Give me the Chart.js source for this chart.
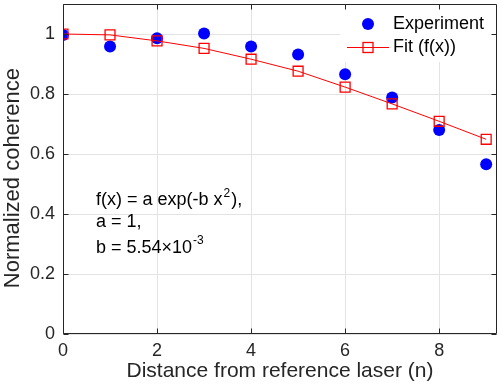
<!DOCTYPE html>
<html>
<head>
<meta charset="utf-8">
<script src="https://cdn.jsdelivr.net/npm/chart.js@4.4.1/dist/chart.umd.min.js"></script>
<style>
  html, body { margin: 0; padding: 0; background: #fff; }
</style>
</head>
<body>
<canvas id="chart" width="502" height="384"></canvas>
<script>
// data
var distance = [0, 1, 2, 3, 4, 5, 6, 7, 8, 9];
var experiment = [0.997, 0.958, 0.986, 1.002, 0.958, 0.932, 0.866, 0.788, 0.680, 0.566];
var fitValues = [1.000, 0.997, 0.977, 0.952, 0.916, 0.876, 0.823, 0.767, 0.709, 0.649];
var seriesNames = ['Experiment', 'Fit (f(x))'];
var xTickStep = 2;
var yTickStep = 0.2;
var xTitle = 'Distance from reference laser (n)';
var yTitle = 'Normalized coherence';

var FONT = 'Liberation Sans, Arial, Helvetica, sans-serif';
var AXIS = '#262626';

function points(ys) {
  var out = [];
  for (var i = 0; i < distance.length; i++) out.push({x: distance[i], y: ys[i]});
  return out;
}

// box around the axes with inward ticks (matlab style)
var boxPlugin = {
  id: 'box',
  afterDraw: function(chart) {
    var ctx = chart.ctx, a = chart.chartArea;
    var xs = chart.scales.x, ys = chart.scales.y;
    var L = Math.round(a.left) + 0.5, R = Math.round(a.right) - 0.5;
    var T = Math.round(a.top) + 0.5, B = Math.round(a.bottom) - 0.5;
    ctx.save();
    ctx.strokeStyle = AXIS;
    ctx.lineWidth = 1;
    ctx.beginPath();
    ctx.rect(L, T, R - L, B - T);
    xs.ticks.forEach(function(t) {
      var px = Math.round(xs.getPixelForValue(t.value)) + 0.5;
      ctx.moveTo(px, B); ctx.lineTo(px, B - 5);
      ctx.moveTo(px, T); ctx.lineTo(px, T + 5);
    });
    ys.ticks.forEach(function(t) {
      var py = Math.round(ys.getPixelForValue(t.value)) + 0.5;
      ctx.moveTo(L, py); ctx.lineTo(L + 5, py);
      ctx.moveTo(R, py); ctx.lineTo(R - 5, py);
    });
    ctx.stroke();
    ctx.restore();
  }
};

// legend in the upper right corner + fit formula text
var notePlugin = {
  id: 'note',
  afterDatasetsDraw: function(chart) {
    var ctx = chart.ctx;
    ctx.save();
    ctx.fillStyle = '#fff';
    ctx.fillRect(340, 8, 154, 54);

    ctx.fillStyle = '#0000ff';
    ctx.beginPath();
    ctx.arc(368, 24, 6, 0, Math.PI * 2);
    ctx.fill();

    ctx.strokeStyle = '#ff0000';
    ctx.lineWidth = 1;
    ctx.beginPath();
    ctx.moveTo(347, 47.5); ctx.lineTo(389, 47.5);
    ctx.stroke();
    ctx.lineWidth = 1.3;
    ctx.strokeRect(363, 42.5, 10, 10);

    ctx.fillStyle = '#000';
    ctx.font = '18px ' + FONT;
    ctx.textBaseline = 'middle';
    ctx.fillText(seriesNames[0], 393, 24);
    ctx.fillText(seriesNames[1], 393, 47);

    // formula text
    ctx.textBaseline = 'alphabetic';
    var x0 = 96;
    var s1 = 'f(x) = a exp(-b x';
    ctx.fillText(s1, x0, 205);
    var w = ctx.measureText(s1).width;
    ctx.font = '12px ' + FONT;
    ctx.fillText('2', x0 + w + 1, 197);
    var w2 = ctx.measureText('2').width;
    ctx.font = '18px ' + FONT;
    ctx.fillText('),', x0 + w + w2 + 2, 205);

    ctx.fillText('a = 1,', x0, 227);

    var s3 = 'b = 5.54\u00d710';
    ctx.fillText(s3, x0, 253);
    var w3 = ctx.measureText(s3).width;
    ctx.font = '12px ' + FONT;
    ctx.fillText('-3', x0 + w3 + 1, 244);
    ctx.restore();
  }
};

new Chart(document.getElementById('chart'), {
  type: 'scatter',
  data: {
    datasets: [
      {
        label: seriesNames[0],
        data: points(experiment),
        order: 2,
        showLine: false,
        pointStyle: 'circle',
        pointRadius: 6,
        pointBackgroundColor: '#0000ff',
        pointBorderWidth: 0,
        backgroundColor: '#0000ff'
      },
      {
        label: seriesNames[1],
        data: points(fitValues),
        order: 1,
        showLine: true,
        borderColor: '#ff0000',
        borderWidth: 1,
        pointStyle: 'rect',
        pointRadius: 7,
        pointBorderColor: '#ff0000',
        pointBorderWidth: 1.3,
        pointBackgroundColor: 'rgba(0,0,0,0)'
      }
    ]
  },
  options: {
    responsive: false,
    animation: false,
    layout: { autoPadding: false, padding: { top: 4, right: 5, left: 0, bottom: 0 } },
    plugins: { legend: { display: false }, tooltip: { enabled: false } },
    scales: {
      x: {
        type: 'linear',
        min: 0,
        max: 9.23,
        afterFit: function(s) { s.height = 50; s.paddingLeft = 0; s.paddingRight = 0; },
        border: { display: false },
        grid: { color: '#e3e3e3', drawTicks: false },
        ticks: {
          stepSize: xTickStep,
          includeBounds: false,
          padding: 6,
          color: AXIS,
          font: { family: FONT, size: 18 }
        },
        title: {
          display: true,
          text: xTitle,
          color: AXIS,
          padding: { top: 0, bottom: 0 },
          font: { family: FONT, size: 21 }
        }
      },
      y: {
        type: 'linear',
        min: 0,
        max: 1.1,
        afterFit: function(s) { s.width = 63; s.paddingTop = 0; s.paddingBottom = 0; },
        border: { display: false },
        grid: { color: '#e3e3e3', drawTicks: false },
        ticks: {
          stepSize: yTickStep,
          includeBounds: false,
          padding: 8,
          color: AXIS,
          font: { family: FONT, size: 18 },
          callback: function(v) { return String(Number(v.toFixed(1))); }
        },
        title: {
          display: true,
          text: yTitle + '   ',
          color: AXIS,
          padding: { top: 0, bottom: 0 },
          font: { family: FONT, size: 22 }
        }
      }
    }
  },
  plugins: [notePlugin, boxPlugin]
});
</script>
</body>
</html>
